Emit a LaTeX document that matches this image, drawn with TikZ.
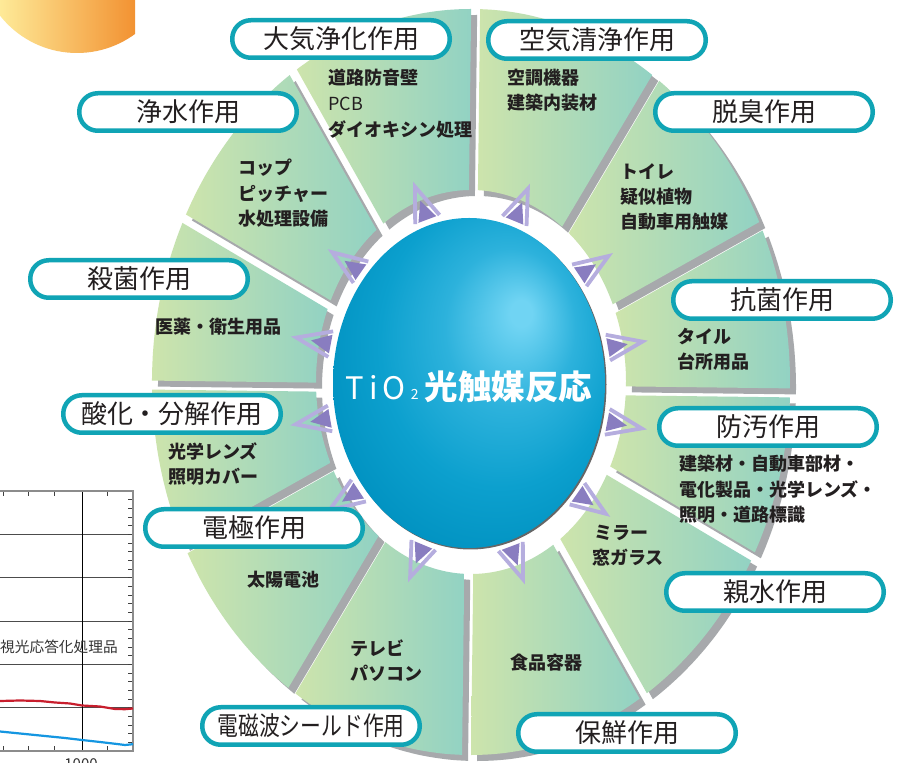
\documentclass[tikz,border=0pt]{standalone}
\usepackage{fontspec}
\usepackage{graphicx}
\newfontfamily\jp{Noto Sans CJK JP}
\definecolor{pillteal}{RGB}{16,164,181}
\definecolor{txtdark}{RGB}{35,31,32}
\definecolor{segL}{RGB}{205,228,172}
\definecolor{segR}{RGB}{146,210,195}
\definecolor{segshadowc}{RGB}{167,169,172}
\definecolor{pdarkc}{RGB}{137,125,192}
\definecolor{plightc}{RGB}{181,173,222}
\definecolor{tiolight}{RGB}{112,212,243}
\definecolor{tiomid}{RGB}{45,178,220}
\definecolor{tiomid2}{RGB}{12,160,206}
\definecolor{tiodark}{RGB}{0,145,192}
\definecolor{orL}{RGB}{254,234,152}
\definecolor{orR}{RGB}{242,146,50}
\definecolor{chartred}{RGB}{200,30,45}
\definecolor{chartblue}{RGB}{20,150,225}
\definecolor{chartgray}{RGB}{140,140,140}
\pgfdeclareradialshading{tioshade}{\pgfpoint{10bp}{11bp}}{color(0bp)=(tiolight); color(2bp)=(tiolight); color(12bp)=(tiomid); color(22bp)=(tiomid2); color(32bp)=(tiodark); color(50bp)=(tiodark)}
\tikzset{
  pill/.style={draw=pillteal, line width=4.5pt, fill=white, rounded corners=18.5pt,
    minimum width=217.5pt, minimum height=37.5pt, inner sep=0pt, text=txtdark,
    font=\jp\fontsize{26}{26}\selectfont},
  itm/.style={anchor=west, inner sep=0pt, text=txtdark, font=\jp\bfseries\fontsize{18}{18}\selectfont},
  itmreg/.style={anchor=west, inner sep=0pt, text=txtdark, font=\jp\fontsize{18}{18}\selectfont},
  segshadow/.style={fill=segshadowc},
  chev/.style={draw=plightc, line width=3.8pt, line join=miter, line cap=butt},
  pdark/.style={fill=pdarkc},
  chartgrid/.style={draw=black!70, line width=0.9pt},
  chartframe/.style={draw=chartgray, line width=1.8pt},
  charttick/.style={draw=black!75, line width=0.9pt},
}
\begin{document}
\begin{tikzpicture}[x=1pt,y=1pt,
  declare function={
    Ao(\t)=cos(\t)*cos(\t)/10.1761+sin(\t)*sin(\t)/13.9129;
    Bo(\t)=-0.14*sin(\t)/13.9129;
    Rout(\t)=100*(-Bo(\t)+sqrt(Bo(\t)*Bo(\t)+4*Ao(\t)*0.99965))/(2*Ao(\t));
    Ai(\t)=cos(\t)*cos(\t)/2.4025+sin(\t)*sin(\t)/3.6864;
    Bi(\t)=-0.14*sin(\t)/3.6864;
    Rin(\t)=100*(-Bi(\t)+sqrt(Bi(\t)*Bi(\t)+4*Ai(\t)*0.99867))/(2*Ai(\t));
  }]
\useasboundingbox (0,0) rectangle (906,763);
\fill[white] (0,0) rectangle (906,763);

% orange disc top-left
\begin{scope}
  \clip (77,808) circle[radius=98pt];
  \shade[left color=orL, right color=orR] (0,690) rectangle (135,763);
\end{scope}

% partial chart bottom-left
\begin{scope}
  \clip (0,0) rectangle (906,763);
  \foreach \yy in {229,186,142,99,56} \draw[chartgrid] (0,\yy) -- (133,\yy);
  \draw[black, line width=0.9pt] (82,12) -- (82,272);
  \foreach \i in {1,...,29} \draw[charttick] (128,{12+8.6667*\i}) -- (133,{12+8.6667*\i});
  \foreach \xx in {3,28,54,107} {
    \draw[charttick] (\xx,272) -- (\xx,267);
    \draw[charttick] (\xx,12) -- (\xx,17);
  }
  \draw[chartframe] (0,272) -- (133,272) -- (133,12) -- (0,12);
  \draw[chartred, line width=2.2pt, line join=round] (0,62) -- (20,62.5) -- (40,62) -- (55,60.5) -- (70,59.5) -- (82,57.5) -- (100,56.5) -- (115,54) -- (125,53.8) -- (133,54.5);
  \draw[chartblue, line width=2.2pt, line join=round] (0,31.5) -- (20,29.5) -- (45,27) -- (65,25) -- (82,23) -- (100,21) -- (117,19) -- (125,18) -- (133,18.8);
  \node[anchor=west, inner sep=0pt, text=black!80, font=\jp\fontsize{14.7}{14.7}\selectfont] (chartlabel) at (0,116) {視光応答化処理品};
  \node[anchor=north, inner sep=0pt, text=black!80, font=\jp\fontsize{15}{15}\selectfont] (axislabel) at (81,4.5) {1000};
\end{scope}

% wheel segments
\begin{scope}[shift={(471,374)}]
  \foreach \k in {0,...,11}{
    \pgfmathsetmacro\aA{30*\k-0.7}
    \pgfmathsetmacro\aB{30*\k+29.3}
    \pgfmathsetmacro\oA{\aA+asin(4.5/Rout(\aA))}
    \pgfmathsetmacro\oB{\aB-asin(4.5/Rout(\aB))}
    \pgfmathsetmacro\iA{\aA+asin(4.5/Rin(\aA))}
    \pgfmathsetmacro\iB{\aB-asin(4.5/Rin(\aB))}
    \fill[segshadow, shift={(6,-6)}] (\iA:{Rin(\iA)}) -- plot[domain=\oA:\oB, samples=40] (\x:{Rout(\x)}) -- plot[domain=\iB:\iA, samples=25] (\x:{Rin(\x)}) -- cycle;
  }
  \foreach \k in {0,...,11}{
    \pgfmathsetmacro\aA{30*\k-0.7}
    \pgfmathsetmacro\aB{30*\k+29.3}
    \pgfmathsetmacro\oA{\aA+asin(4.5/Rout(\aA))}
    \pgfmathsetmacro\oB{\aB-asin(4.5/Rout(\aB))}
    \pgfmathsetmacro\iA{\aA+asin(4.5/Rin(\aA))}
    \pgfmathsetmacro\iB{\aB-asin(4.5/Rin(\aB))}
    \shade[left color=segL, right color=segR] (\iA:{Rin(\iA)}) -- plot[domain=\oA:\oB, samples=40] (\x:{Rout(\x)}) -- plot[domain=\iB:\iA, samples=25] (\x:{Rin(\x)}) -- cycle;
  }
\end{scope}

% central ellipse
\fill[black!60] (470.5,378.5) ellipse [x radius=136pt, y radius=165pt];
\shade[shading=tioshade] (469,380) ellipse [x radius=136pt, y radius=165pt];

% arrow markers
\begin{scope}[shift={(469,380)}]
  \foreach \k in {0,...,11}{
    \pgfmathsetmacro\th{15+30*\k-0.7}
    \pgfmathsetmacro\rr{100/sqrt(cos(\th)*cos(\th)/1.8496+sin(\th)*sin(\th)/2.7225)+6}
    \pgfmathsetmacro\ph{atan2(sin(\th)*1.8496,cos(\th)*2.7225)}
    \begin{scope}[shift={(\th:\rr)}, rotate=\ph]
      \draw[chev] (0,13) -- (35,0) -- (0,-13);
      \fill[pdark] (0,9.5) -- (20,0) -- (0,-9.5) -- cycle;
    \end{scope}
  }
\end{scope}

% central title
\node[inner sep=0pt, text=white] (center) at (469,376)
  {{\jp\fontsize{31}{31}\selectfont T\kern5pt i\kern5pt O}\kern5pt{\jp\fontsize{14}{14}\selectfont 2}\kern6pt{\jp\bfseries\fontsize{33.5}{33.5}\selectfont 光触媒反応}};

% item texts
\node[itm] (t3a) at (328,685) {道路防音壁};
\node[itmreg] (t3b) at (328,659) {PCB};
\node[itm] (t3c) at (328,633) {ダイオキシン処理};
\node[itm] (t2a) at (507,685) {空調機器};
\node[itm] (t2b) at (507,660) {建築内装材};
\node[itm] (t1a) at (620,591) {トイレ};
\node[itm] (t1b) at (620,566) {疑似植物};
\node[itm] (t1c) at (620,541) {自動車用触媒};
\node[itm] (t0a) at (677,426) {タイル};
\node[itm] (t0b) at (677,401) {台所用品};
\node[itm] (t11a) at (679,299) {建築材・自動車部材・};
\node[itm] (t11b) at (679,274) {電化製品・光学レンズ・};
\node[itm] (t11c) at (679,248) {照明・道路標識};
\node[itm] (t10a) at (594,230) {ミラー};
\node[itm] (t10b) at (592,205) {窓ガラス};
\node[itm] (t9a) at (510,100) {食品容器};
\node[itm] (t8a) at (350,115) {テレビ};
\node[itm] (t8b) at (350,90) {パソコン};
\node[itm] (t7a) at (247,183) {太陽電池};
\node[itm] (t6a) at (168,312) {光学レンズ};
\node[itm] (t6b) at (168,286) {照明カバー};
\node[itm] (t5a) at (155,436) {医薬・衛生用品};
\node[itm] (t4a) at (238,595) {コップ};
\node[itm] (t4b) at (238,569) {ピッチャー};
\node[itm] (t4c) at (238,544) {水処理設備};

% pill labels
\node[pill] (L3) at (341,724) {大気浄化作用};
\node[pill] (L2) at (597,723) {空気清浄作用};
\node[pill] (L4) at (188,651) {浄水作用};
\node[pill] (L1) at (764,651) {脱臭作用};
\node[pill] (L5) at (139,484) {殺菌作用};
\node[pill] (L0) at (782,463) {抗菌作用};
\node[pill] (L6) at (172,349) {酸化・分解作用};
\node[pill] (L11) at (768,336) {防汚作用};
\node[pill] (L7) at (254,235) {電極作用};
\node[pill] (L10) at (775,171) {親水作用};
\node[pill] (L8) at (311,37) {\scalebox{0.8}[1]{電磁波シールド作用}};
\node[pill] (L9) at (627,30) {保鮮作用};
\end{tikzpicture}
\end{document}
